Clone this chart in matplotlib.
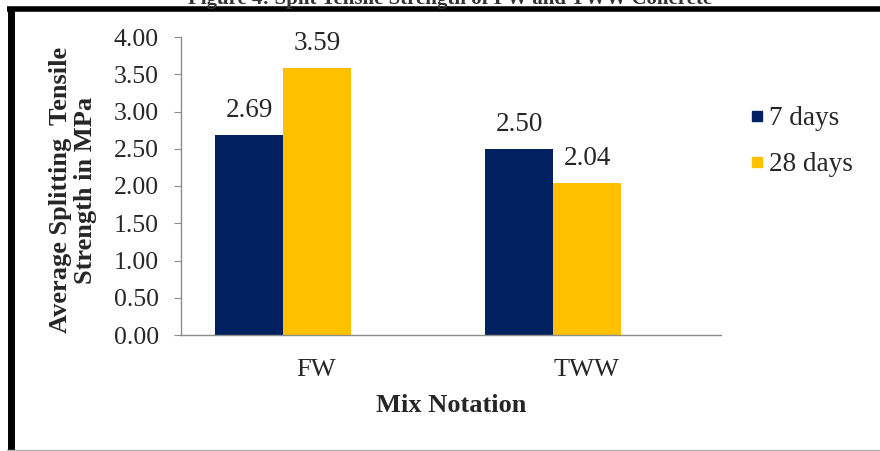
import numpy as np
import matplotlib.pyplot as plt
from matplotlib.lines import Line2D

# data
mixes = ["FW", "TWW"]
days7 = [2.69, 2.50]
days28 = [3.59, 2.04]
series_names = ["7 days", "28 days"]
yticks = [0.0, 0.5, 1.0, 1.5, 2.0, 2.5, 3.0, 3.5, 4.0]

navy = "#002060"
gold = "#FFC000"
txt = "#262626"
W, H = 880, 451

plt.rcParams['font.family'] = ['Liberation Serif', 'DejaVu Serif']

fig = plt.figure(figsize=(W / 100, H / 100), dpi=100)
fig.patch.set_facecolor("white")

# axes placed in pixel terms
ax = fig.add_axes([181 / W, (H - 335) / H, 540 / W, 298 / H])

x = np.arange(len(mixes)) + 0.5
shift = 0.122  # bars sit a little left of the category labels in the original
bw = 0.252
b1 = ax.bar(x - shift - bw / 2, days7, bw, color=navy, label=series_names[0])
b2 = ax.bar(x - shift + bw / 2, days28, bw, color=gold, label=series_names[1])

for bars in (b1, b2):
    for r in bars:
        ax.annotate("%.2f" % r.get_height(),
                    (r.get_x() + r.get_width() / 2, r.get_height()),
                    xytext=(0, 17.5), textcoords="offset points",
                    ha="center", va="center", fontsize=19.5, color=txt)

ax.set_xlim(0, 2)
ax.set_ylim(0, 4)
ax.set_yticks(yticks)
ax.set_yticklabels(["%.2f" % v for v in yticks])
ax.set_xticks(x)
ax.set_xticklabels(mixes)
ax.tick_params(axis="y", length=5, color="#8c8c8c", labelsize=18.5,
               labelcolor=txt, pad=11)
ax.tick_params(axis="x", length=0, labelsize=19, labelcolor=txt, pad=17)
for s in ("top", "right"):
    ax.spines[s].set_visible(False)
for s in ("left", "bottom"):
    ax.spines[s].set_color("#8c8c8c")
    ax.spines[s].set_linewidth(1)

fig.text(451 / W, 1 - 406 / H, "Mix Notation", ha="center", va="center",
         fontsize=19, fontweight="bold", color=txt)
fig.text(73 / W, 1 - 190 / H, "Average Splitting  Tensile\nStrength in MPa",
         rotation=90, ha="center", va="center", fontsize=19,
         fontweight="bold", color=txt, linespacing=1.1, multialignment="center")

handles = [Line2D([], [], ls="none", marker="s", markersize=6.5, color=c)
           for c in (navy, gold)]
fig.legend(handles, series_names, loc="upper left",
           bbox_to_anchor=(751 / W, 1 - 106 / H), frameon=False, borderpad=0,
           borderaxespad=0, fontsize=19.5, handlelength=0.45,
           handletextpad=0.2, labelspacing=0.78, labelcolor=txt)

# page frame and clipped caption above
fig.add_artist(Line2D([7 / W, 1], [1 - 8.5 / H] * 2, color="black", lw=4,
                      transform=fig.transFigure, solid_capstyle="butt"))
fig.add_artist(Line2D([10.5 / W] * 2, [1 - 6.5 / H, 0], color="black", lw=5,
                      transform=fig.transFigure, solid_capstyle="butt"))
fig.add_artist(Line2D([7 / W, 1], [1 - 449.5 / H] * 2, color="#b0b0b0", lw=1,
                      transform=fig.transFigure))
fig.text(450 / W, 1 - 4 / H, "Figure 4: Split Tensile Strength of FW and TWW Concrete",
         ha="center", va="baseline", fontsize=15, fontweight="bold", color="#333333")

fig.savefig("out.png", dpi=100)
